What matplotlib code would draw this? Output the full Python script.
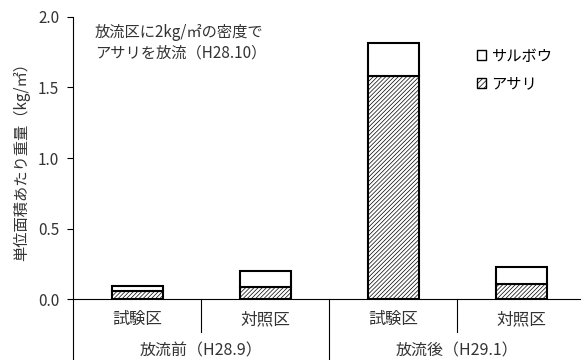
import numpy as np
import matplotlib
matplotlib.use('Agg')
import matplotlib.pyplot as plt
from matplotlib.patches import Patch

plt.rcParams['font.family'] = ['Noto Sans CJK JP', 'DejaVu Sans']
plt.rcParams['hatch.linewidth'] = 0.5

# データ
sites = ['試験区', '対照区', '試験区', '対照区']
groups = ['放流前（H28.9）', '放流後（H29.1）']
asari = [0.06, 0.085, 1.58, 0.105]
saruboo = [0.036, 0.118, 0.236, 0.124]
y_ticks = [0.0, 0.5, 1.0, 1.5, 2.0]

fig = plt.figure(figsize=(5.81, 3.6), dpi=100)
ax = fig.add_axes([0.126, 0.169, 0.874, 0.784])

x = np.arange(len(sites))
w = 0.4
ax.bar(x, asari, w, color='white', edgecolor='black', hatch='////////', linewidth=1.5, label='アサリ')
ax.bar(x, saruboo, w, bottom=asari, color='white', edgecolor='black', linewidth=1.5, label='サルボウ')

ax.set_xlim(-0.5, 3.466)
ax.set_ylim(0, 2.0)
ax.set_yticks(y_ticks)
ax.set_yticklabels([f'{v:.1f}' for v in y_ticks], fontsize=11, color='#333333')
ax.tick_params(axis='y', direction='out', length=4, width=0.8, pad=6)
ax.set_xticks([])
ax.spines['top'].set_visible(False)
ax.spines['right'].set_visible(False)
ax.spines['left'].set_linewidth(0.8)
ax.spines['bottom'].set_linewidth(0.8)

ax.set_ylabel('単位面積あたり重量（kg/㎡）', fontsize=11, labelpad=6, color='#333333')

# 横軸の区切りとラベル
tr = ax.get_xaxis_transform()
for i, s in enumerate(sites):
    ax.text(i, -0.072, s, transform=tr, ha='center', va='center', fontsize=12, color='#333333')
for i, g in enumerate(groups):
    ax.text(2 * i + 0.5, -0.182, g, transform=tr, ha='center', va='center', fontsize=11.5, color='#333333')
for xd in [0.5, 2.5]:
    ax.plot([xd, xd], [0, -0.117], transform=tr, color='black', lw=0.8, clip_on=False)
for xd in [-0.5, 1.5]:
    ax.plot([xd, xd], [0, -0.25], transform=tr, color='black', lw=0.8, clip_on=False)

ax.text(-0.33, 1.815, '放流区に2kg/㎡の密度で\nアサリを放流（H28.10）', fontsize=11,
        ha='left', va='center', linespacing=1.3, color='#333333')

handles = [Patch(facecolor='white', edgecolor='black', label='サルボウ'),
           Patch(facecolor='white', edgecolor='black', hatch='//////', label='アサリ')]
ax.legend(handles=handles, loc='upper left', bbox_to_anchor=(0.768, 0.94), frameon=False,
          fontsize=11, handlelength=0.6, handleheight=0.6, handletextpad=0.3, labelspacing=0.7)

fig.savefig('out.png', dpi=100)
